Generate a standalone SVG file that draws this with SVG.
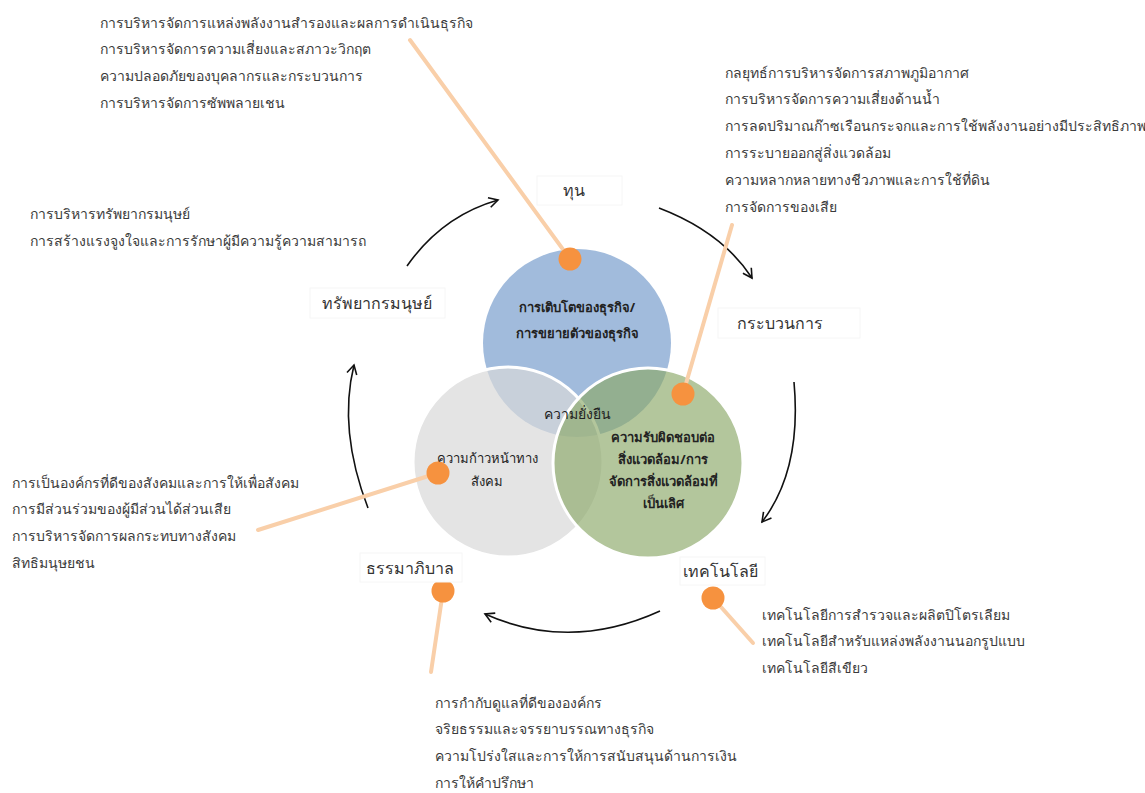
<svg xmlns="http://www.w3.org/2000/svg" width="1145" height="793" viewBox="0 0 1145 793">
<defs>
<style>
.t{font-family:"Noto Sans","DejaVu Sans",sans-serif;font-size:14px;fill:#3b3b3b}
.lbl{font-family:"Noto Sans","DejaVu Sans",sans-serif;font-size:16px;fill:#333;text-anchor:middle}
.c{font-family:"Noto Sans","DejaVu Sans",sans-serif;font-size:13px;fill:#222;text-anchor:middle}
.b{font-weight:bold}
.box{fill:#fff;stroke:#f6f6f6;stroke-width:1}
.lead{stroke:#f9cfa9;stroke-width:4;fill:none;stroke-linecap:round}
.dot{fill:#f6923f}
.arr{stroke:#111;stroke-width:1.6;fill:none;marker-end:url(#ah)}
</style>
<marker id="ah" viewBox="0 0 12 12" refX="10" refY="6" markerWidth="12" markerHeight="12" markerUnits="userSpaceOnUse" orient="auto">
<path d="M1,1 L10,6 L1,11" fill="none" stroke="#111" stroke-width="1.6"/>
</marker>
</defs>
<rect width="1145" height="793" fill="#fff"/>
<g id="circles">
<circle id="c-growth" cx="577" cy="343" r="94" fill="#a1bbdc"/>
<circle id="c-social" cx="508" cy="462" r="95" fill="#d9d9d9" fill-opacity="0.7" stroke="#fff" stroke-width="3"/>
<circle id="c-env" cx="648" cy="463" r="95" fill="#8ca868" fill-opacity="0.66" stroke="#fff" stroke-width="3"/>
</g>
<g id="circle-text">
<text class="c b" x="577" y="312">การเติบโตของธุรกิจ/</text>
<text class="c b" x="577" y="338">การขยายตัวของธุรกิจ</text>
<text class="c" x="577" y="419" style="font-size:14px">ความยั่งยืน</text>
<text class="c" x="487" y="463">ความก้าวหน้าทาง</text>
<text class="c" x="487" y="486">สังคม</text>
<text class="c b" x="663" y="442">ความรับผิดชอบต่อ</text>
<text class="c b" x="663" y="464">สิ่งแวดล้อม/การ</text>
<text class="c b" x="663" y="486">จัดการสิ่งแวดล้อมที่</text>
<text class="c b" x="663" y="508">เป็นเลิศ</text>
</g>
<g id="connectors">
<path class="arr" d="M407,266 Q442,216 498,200"/>
<path class="arr" d="M659,208 Q722,232 752,278"/>
<path class="arr" d="M794,382 Q802,470 762,522"/>
<path class="arr" d="M660,611 Q570,652 485,614"/>
<path class="arr" d="M368,508 Q338,430 354,365"/>
<line class="lead" x1="410" y1="40" x2="570" y2="259"/>
<line class="lead" x1="732" y1="225" x2="683" y2="394"/>
<line class="lead" x1="258" y1="530" x2="438" y2="473"/>
<line class="lead" x1="443" y1="591" x2="431" y2="672"/>
<line class="lead" x1="713" y1="598" x2="753" y2="643"/>
</g>
<g id="dots">
<circle class="dot" cx="570" cy="259" r="11.5"/>
<circle class="dot" cx="683" cy="394" r="11.5"/>
<circle class="dot" cx="438" cy="473" r="11.5"/>
<circle class="dot" cx="443" cy="591" r="11.5"/>
<circle class="dot" cx="713" cy="598" r="11.5"/>
</g>
<g id="n-capital"><rect class="box" x="537" y="176" width="85" height="29"/><text class="lbl" x="574" y="196">ทุน</text></g>
<g id="n-hr"><rect class="box" x="310" y="288" width="135" height="30"/><text class="lbl" x="377" y="309">ทรัพยากรมนุษย์</text></g>
<g id="n-process"><rect class="box" x="718" y="308" width="142" height="30"/><text class="lbl" x="780" y="329">กระบวนการ</text></g>
<g id="n-tech"><rect class="box" x="680" y="557" width="85" height="28"/><text class="lbl" x="720" y="577">เทคโนโลยี</text></g>
<g id="n-gov"><rect class="box" x="360" y="553" width="102" height="29"/><text class="lbl" x="410" y="574">ธรรมาภิบาล</text></g>
<g id="txt-capital">
<text class="t" x="100" y="28">การบริหารจัดการแหล่งพลังงานสำรองและผลการดำเนินธุรกิจ</text>
<text class="t" x="100" y="54">การบริหารจัดการความเสี่ยงและสภาวะวิกฤต</text>
<text class="t" x="100" y="81">ความปลอดภัยของบุคลากรและกระบวนการ</text>
<text class="t" x="100" y="108">การบริหารจัดการซัพพลายเชน</text>
</g>
<g id="txt-process">
<text class="t" x="725" y="78">กลยุทธ์การบริหารจัดการสภาพภูมิอากาศ</text>
<text class="t" x="725" y="104">การบริหารจัดการความเสี่ยงด้านน้ำ</text>
<text class="t" x="725" y="131">การลดปริมาณก๊าซเรือนกระจกและการใช้พลังงานอย่างมีประสิทธิภาพ</text>
<text class="t" x="725" y="158">การระบายออกสู่สิ่งแวดล้อม</text>
<text class="t" x="725" y="185">ความหลากหลายทางชีวภาพและการใช้ที่ดิน</text>
<text class="t" x="725" y="212">การจัดการของเสีย</text>
</g>
<g id="txt-hr">
<text class="t" x="30" y="219">การบริหารทรัพยากรมนุษย์</text>
<text class="t" x="30" y="246">การสร้างแรงจูงใจและการรักษาผู้มีความรู้ความสามารถ</text>
</g>
<g id="txt-social">
<text class="t" x="12" y="488">การเป็นองค์กรที่ดีของสังคมและการให้เพื่อสังคม</text>
<text class="t" x="12" y="514">การมีส่วนร่วมของผู้มีส่วนได้ส่วนเสีย</text>
<text class="t" x="12" y="541">การบริหารจัดการผลกระทบทางสังคม</text>
<text class="t" x="12" y="568">สิทธิมนุษยชน</text>
</g>
<g id="txt-gov">
<text class="t" x="435" y="708">การกำกับดูแลที่ดีขององค์กร</text>
<text class="t" x="435" y="734">จริยธรรมและจรรยาบรรณทางธุรกิจ</text>
<text class="t" x="435" y="761">ความโปร่งใสและการให้การสนับสนุนด้านการเงิน</text>
<text class="t" x="435" y="788">การให้คำปรึกษา</text>
</g>
<g id="txt-tech">
<text class="t" x="762" y="620">เทคโนโลยีการสำรวจและผลิตปิโตรเลียม</text>
<text class="t" x="762" y="646">เทคโนโลยีสำหรับแหล่งพลังงานนอกรูปแบบ</text>
<text class="t" x="762" y="673">เทคโนโลยีสีเขียว</text>
</g>
</svg>
